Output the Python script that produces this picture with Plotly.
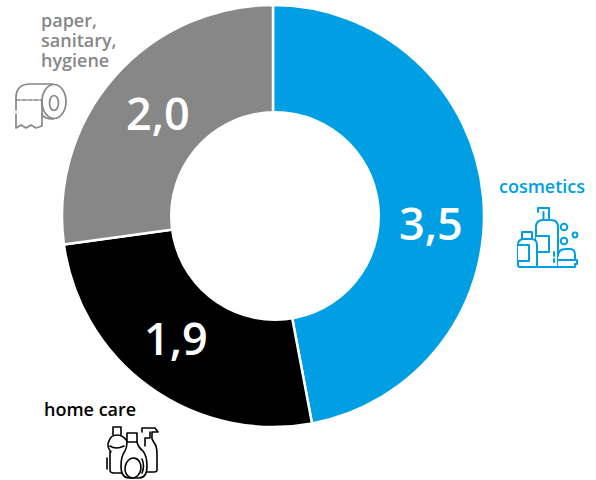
import base64
import plotly.graph_objects as go

labels = ["cosmetics", "home care", "paper, sanitary, hygiene"]
values = [3.5, 1.92, 2.02]
value_text = ["3,5", "1,9", "2,0"]
colors = ["#009FE3", "#000000", "#878787"]

HOLE_DISC = '<circle cx="275" cy="216" r="105" fill="white"/>'

COSMETICS_ICON = """
<g stroke="#009FE3" stroke-width="2" fill="white" stroke-linejoin="round" stroke-linecap="round">
<path d="M538 212V208H549V220M543.5 212V220"/>
<path d="M536 267V227Q536 220 543 220H551Q558 220 558 227V267Z"/>
<path d="M536 236H549V252H536"/>
<path d="M522 239V232H532V239"/>
<path d="M518 265V245Q518 239 524 239H531Q537 239 537 245V267H520Q518 267 518 265Z"/>
<path d="M518 245H529V261H518"/>
<path d="M554 252V256M554 259V262"/>
<path d="M558 256Q558 249 566 249H570Q575 249 575 255V260H558"/>
<path d="M558 260H577V264H575V267H558"/>
<circle cx="564" cy="227" r="3.3"/><circle cx="564" cy="241" r="3.3"/><circle cx="575" cy="235" r="2.4"/>
</g>"""

PAPER_ICON = """
<g stroke="#878787" stroke-width="1.7" fill="none" stroke-linejoin="round" stroke-linecap="round">
<path d="M16 110V98Q16 84 30 84H53"/>
<path d="M16 114V128L21 125L26 128L31 125L36 128L42 126V102"/>
<path d="M16 100H42" stroke-dasharray="4 2"/>
<path d="M42 114Q44 119 53 119"/>
<ellipse cx="54" cy="101.5" rx="12" ry="17"/>
<ellipse cx="54" cy="103" rx="4.5" ry="7.5"/>
</g>"""

HOME_ICON = """
<g stroke="#000000" stroke-width="1.6" fill="white" stroke-linejoin="round" stroke-linecap="round">
<path d="M142 432V428H155L158 432H152V439L156 446Q157 449 157 455V470Q157 472 154 472H146"/>
<path d="M150 432V438H145V446"/>
<path d="M113 435V427H121V435"/>
<path d="M111 452Q106 446 109 441Q111 435 117 435Q123 435 127 441"/>
<path d="M110 452V470Q110 473 114 473H122"/>
<path d="M107 458V469"/>
<path d="M110 446Q116 450 124 446"/>
<path d="M127 442V433H137V442"/>
<path d="M127 442H137Q138 447 143 451Q147 456 147 466Q147 478 139 478H129Q121 478 121 466Q121 456 125 451Q127 447 127 442Z"/>
<ellipse cx="133" cy="468" rx="8" ry="10" transform="rotate(8 133 468)"/>
<path d="M142 459Q145 466 142 473"/>
</g>"""

svg = ('<svg xmlns="http://www.w3.org/2000/svg" width="596" height="480" viewBox="0 0 596 480">'
       + HOLE_DISC + COSMETICS_ICON + PAPER_ICON + HOME_ICON + "</svg>")
icon_uri = "data:image/svg+xml;base64," + base64.b64encode(svg.encode()).decode()

fig = go.Figure(go.Pie(
    labels=labels, values=values, text=value_text, textinfo="none",
    hole=0.47, sort=False, direction="clockwise", rotation=0,
    marker=dict(colors=colors, line=dict(color="#FFFFFF", width=2.5)),
    showlegend=False, hoverinfo="label+text",
    domain=dict(x=[62/596, 484/596], y=[1-428/480, 1-4/480]),
))

def note(x, y, text, color, size=18, anchor="left", vanchor="top"):
    fig.add_annotation(x=x/596, y=1-y/480, xref="paper", yref="paper", text=text,
                       showarrow=False, xanchor=anchor, yanchor=vanchor, align="left",
                       borderpad=0, borderwidth=0,
                       font=dict(family="Open Sans", size=size, color=color, weight=600))

note(499, 174, labels[0], colors[0])
note(44, 397, labels[1], colors[1])
paper_lines = ["paper,", "sanitary,", "hygiene"]
note(41, 8, "<br>".join(f'<span style="font-size:18px">{s}</span>' for s in paper_lines),
     colors[2], size=15.4)

for pos, txt in zip([(431, 222), (176, 337), (158, 113)], value_text):
    note(pos[0], pos[1], txt, "#FFFFFF", size=45, anchor="center", vanchor="middle")

fig.add_layout_image(source=icon_uri, xref="paper", yref="paper", x=0, y=1,
                     sizex=1, sizey=1, xanchor="left", yanchor="top",
                     sizing="stretch", layer="above")

fig.update_layout(width=596, height=480, margin=dict(l=0, r=0, t=0, b=0),
                  paper_bgcolor="#FFFFFF")
fig.write_html("out.html", post_script="document.body.style.margin='0';",
               config=dict(displayModeBar=False))
